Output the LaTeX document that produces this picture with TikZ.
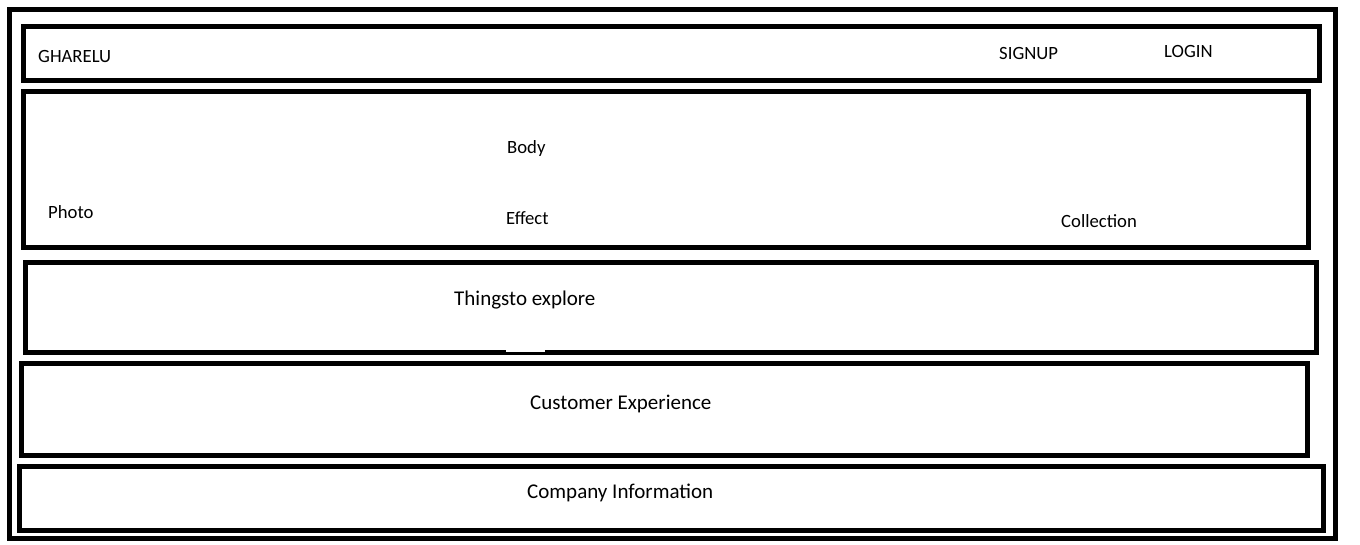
\documentclass[tikz,border=0pt]{standalone}
\usepackage{fontspec}
\setmainfont{Carlito}
\begin{document}
\begin{tikzpicture}[x=1pt,y=-1pt,
  frame/.style={draw=black,line width=5pt},
  lbl/.style={anchor=base west,inner sep=0pt,font=\fontsize{18.7}{20}\selectfont},
  biglbl/.style={anchor=base west,inner sep=0pt,font=\fontsize{21}{23}\selectfont}]
\useasboundingbox[fill=white] (0,0) rectangle (1360,545);
% page outline
\draw[frame] (9.5,9.5) rectangle (1335.5,538);
% header bar
\draw[frame] (23.5,26.5) rectangle (1319.5,80.5);
\node[lbl] (brand) at (38,63) {GHARELU};
\node[lbl] (signup) at (999,60) {SIGNUP};
\node[lbl] (login) at (1164,58) {LOGIN};
% body section
\draw[frame] (23.5,92) rectangle (1308.5,248);
\node[lbl] (body) at (507,154) {Body};
\node[lbl] (photo) at (48,219) {Photo};
\node[lbl] (effect) at (506,225) {Effect};
\node[lbl] (collection) at (1061,228) {Collection};
% things to explore
\draw[frame] (25.5,263) rectangle (1316.5,352.5);
\fill[white] (506,349) rectangle (545,351.5);
\node[biglbl] (explore) at (454,306) {Thingsto explore};
% customer experience
\draw[frame] (21.5,363.5) rectangle (1307.5,455.5);
\node[biglbl] (customer) at (530,409) {Customer Experience};
% company information
\draw[frame] (19.5,466.5) rectangle (1323.5,530);
\node[biglbl] (company) at (527,498) {Company Information};
\end{tikzpicture}
\end{document}
